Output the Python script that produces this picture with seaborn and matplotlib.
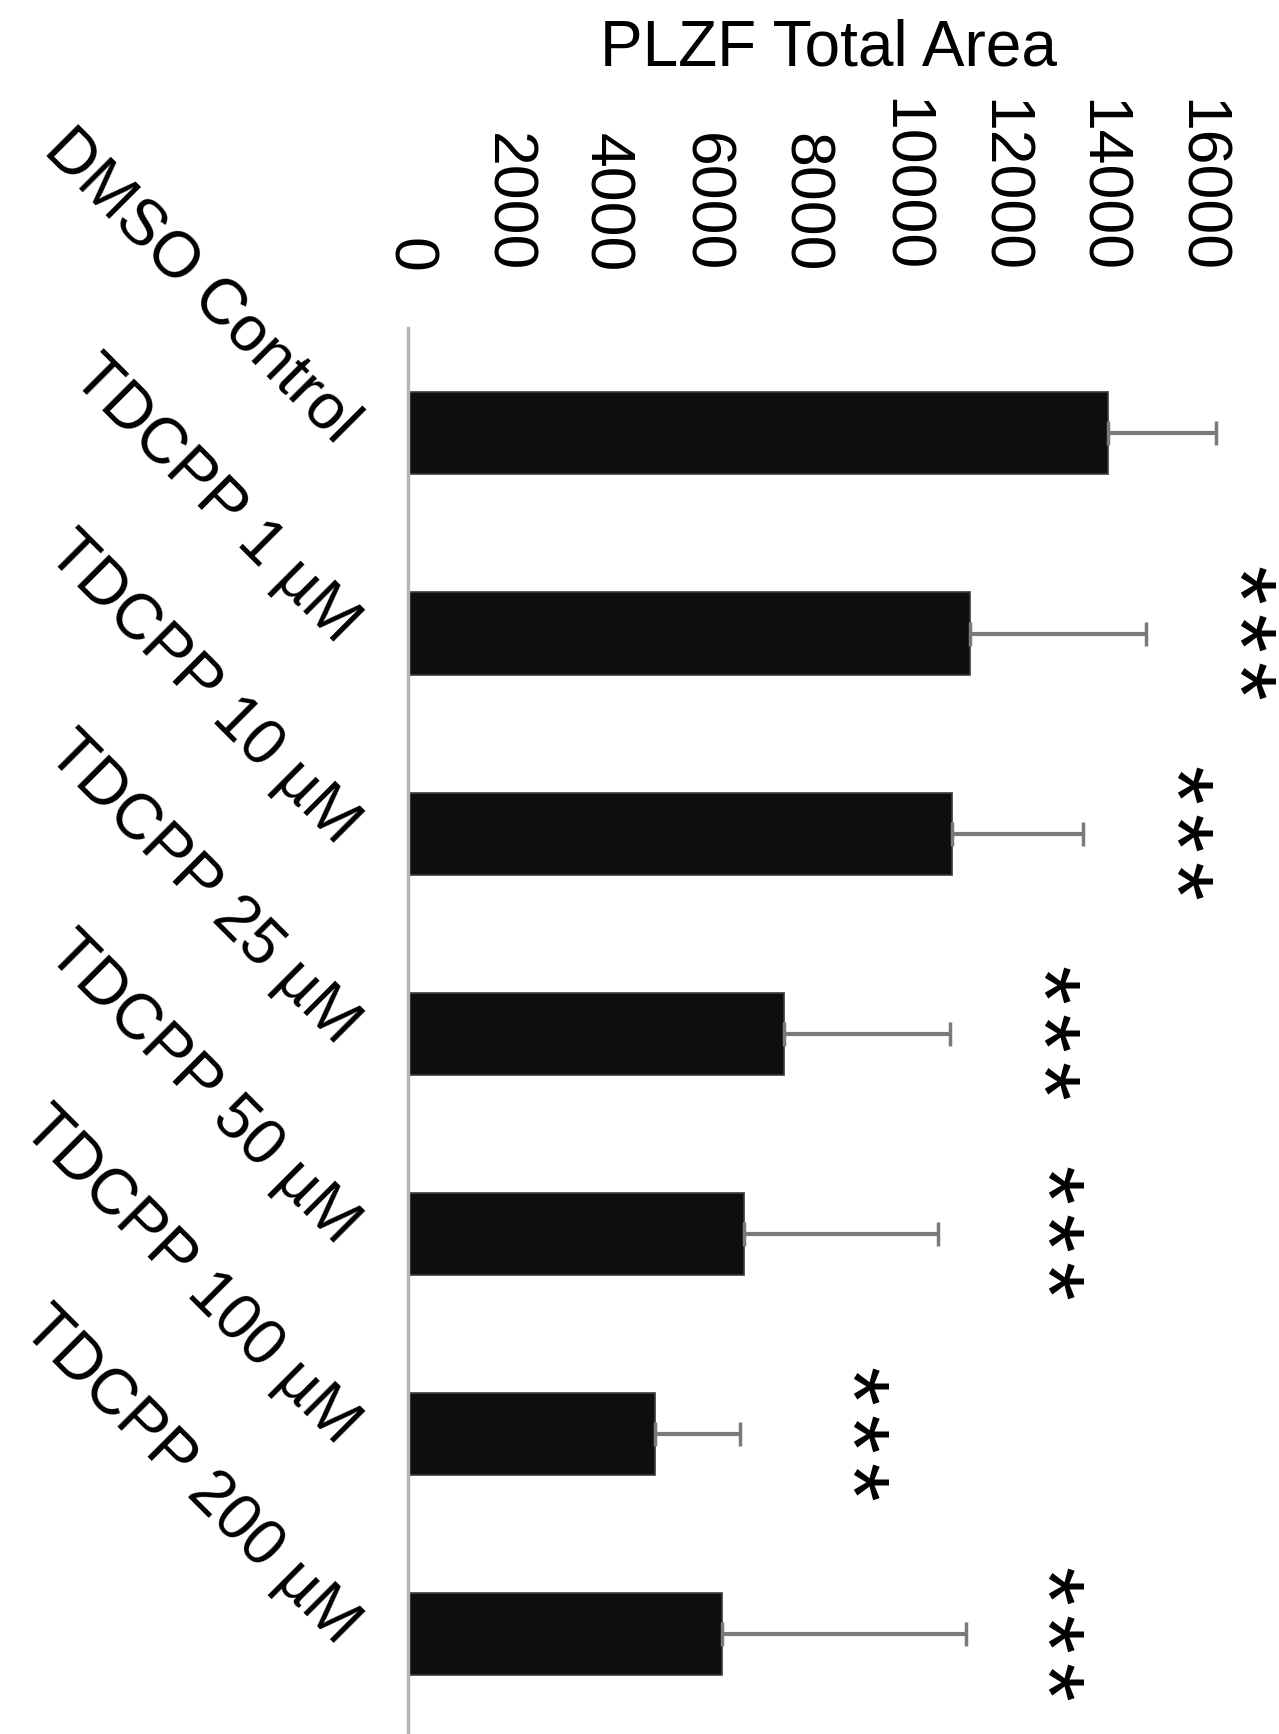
import numpy as np
import pandas as pd
import matplotlib
matplotlib.use("Agg")
import matplotlib.pyplot as plt
import matplotlib.transforms as mtransforms
import seaborn as sns

# Treatment groups, mean PLZF area and standard deviation
groups = ["DMSO Control", "TDCPP 1 µM", "TDCPP 10 µM", "TDCPP 25 µM",
          "TDCPP 50 µM", "TDCPP 100 µM", "TDCPP 200 µM"]
mean_area = [14150, 11350, 10990, 7600, 6790, 4990, 6350]
sd_area = [2180, 3560, 2660, 3350, 3920, 1720, 4930]

# Significance marks and where they sit along the value axis
signif = ["", "***", "***", "***", "***", "***", "***"]
signif_at = [0, 17070, 15800, 13100, 13200, 9250, 13200]

x_ticks = [0, 2000, 4000, 6000, 8000, 10000, 12000, 14000, 16000]

sns.set_theme(style="white")
plt.rcParams["font.family"] = ["Liberation Sans", "DejaVu Sans"]
plt.rcParams["text.color"] = "black"
plt.rcParams["xtick.color"] = "black"
plt.rcParams["ytick.color"] = "black"

fig = plt.figure(figsize=(12.79, 17.34), dpi=100)
ax = fig.add_axes([0.319, -0.003, 0.619, 0.8137])

df = pd.DataFrame({"group": groups, "area": mean_area})
sns.barplot(data=df, x="area", y="group", orient="h", color="#0e0e0e",
            saturation=1, width=0.41, edgecolor="#3a3a3a", linewidth=1.2,
            errorbar=None, ax=ax)

# one-sided error bars, allowed to run past the axis limit
ypos = np.arange(len(groups))
eb = ax.errorbar(mean_area, ypos, xerr=[np.zeros(len(sd_area)), sd_area],
                 fmt="none", ecolor="#7a7a7a", elinewidth=3, capsize=8.6,
                 capthick=2.5, zorder=3)
for art in eb.lines[1] + eb.lines[2]:
    art.set_clip_on(False)

ax.set_xlim(0, 16000)
ax.xaxis.tick_top()
ax.set_xticks(x_ticks)
ax.set_xticklabels([str(t) for t in x_ticks], rotation=270, fontsize=45,
                   color="black")
ax.tick_params(axis="x", length=0, pad=40)
ax.tick_params(axis="y", length=0, pad=43)
for lab in ax.get_yticklabels():
    lab.set_rotation(-45)
    lab.set_rotation_mode("anchor")
    lab.set_ha("right")
    lab.set_va("center")
    lab.set_fontsize(46)
    lab.set_color("black")
ax.set_xlabel("")
ax.set_ylabel("")

for side in ["top", "right", "bottom"]:
    ax.spines[side].set_visible(False)
ax.spines["left"].set_color("#b5b5b5")
ax.spines["left"].set_linewidth(2.5)

# significance stars, written down the page one glyph at a time;
# the asterisk sits high in its line box, hence the small sideways shift
star_step = 48
for i, s in enumerate(signif):
    n = len(s)
    for k, ch in enumerate(s):
        dy = ((n - 1) / 2 - k) * star_step
        tr = mtransforms.offset_copy(ax.transData, fig=fig, x=-22, y=dy,
                                     units="dots")
        ax.text(signif_at[i], i, ch, rotation=270, ha="center", va="center",
                fontsize=72, clip_on=False, transform=tr)

fig.text(828 / 1279, 0.962, "PLZF Total Area", ha="center", va="baseline",
         fontsize=46)

fig.savefig("out.png", dpi=100, facecolor="white")
